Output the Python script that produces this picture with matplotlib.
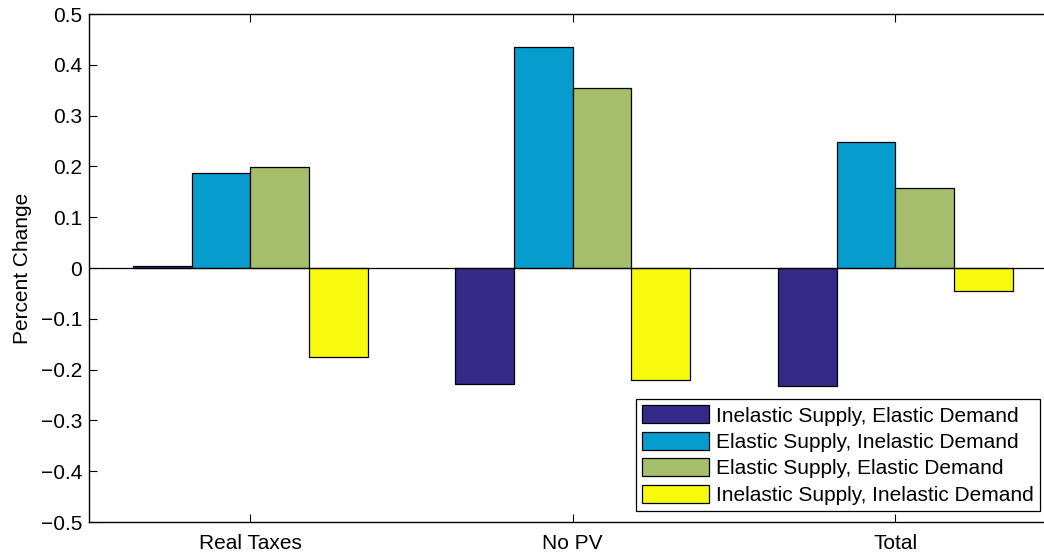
import matplotlib.pyplot as plt
import numpy as np

plt.rcParams['font.family'] = ['Liberation Sans', 'DejaVu Sans']

categories = ['Real Taxes', 'No PV', 'Total']
series_names = ['Inelastic Supply, Elastic Demand',
                'Elastic Supply, Inelastic Demand',
                'Elastic Supply, Elastic Demand',
                'Inelastic Supply, Inelastic Demand']
inel_sup_el_dem = [0.003, -0.228, -0.233]
el_sup_inel_dem = [0.187, 0.435, 0.248]
el_sup_el_dem = [0.198, 0.355, 0.158]
inel_sup_inel_dem = [-0.175, -0.220, -0.045]
colors = ['#352A87', '#069DCE', '#A6BE6B', '#F8FA0D']

data = [inel_sup_el_dem, el_sup_inel_dem, el_sup_el_dem, inel_sup_inel_dem]

fig = plt.figure(figsize=(10.44, 5.55), dpi=100)
ax = fig.add_axes([89 / 1044, 33 / 555, 967.5 / 1044, 508 / 555])

x = np.arange(1, len(categories) + 1)
w = 0.182
for i, (vals, name, c) in enumerate(zip(data, series_names, colors)):
    ax.bar(x + (i - 1.5) * w, vals, w, color=c, edgecolor='black',
           linewidth=0.9, label=name)

ax.axhline(0, color='black', linewidth=0.9)
ax.set_xlim(0.5, 3.5)
ax.set_ylim(-0.5, 0.5)
ax.set_yticks(np.arange(-0.5, 0.51, 0.1))
ax.set_yticklabels(['\u22120.5', '\u22120.4', '\u22120.3', '\u22120.2', '\u22120.1',
                    '0', '0.1', '0.2', '0.3', '0.4', '0.5'])
ax.set_xticks(x)
ax.set_xticklabels(categories)
ax.tick_params(direction='in', length=6, width=0.8, labelsize=15,
               top=True, right=True)
ax.tick_params(axis='y', pad=5)
ax.tick_params(axis='x', pad=8.5)
for s in ax.spines.values():
    s.set_linewidth(1.0)
ax.set_ylabel('Percent Change', fontsize=15, labelpad=6)

leg = ax.legend(loc='lower right', bbox_to_anchor=(1040 / 1044, 44 / 555),
                bbox_transform=fig.transFigure, fontsize=15, frameon=True,
                fancybox=False, edgecolor='black', framealpha=1,
                handlelength=3.2, handleheight=0.95, handletextpad=0.35,
                labelspacing=0.3, borderpad=0.3, borderaxespad=0)
leg.get_frame().set_linewidth(0.9)

fig.savefig('out.png', dpi=100)
